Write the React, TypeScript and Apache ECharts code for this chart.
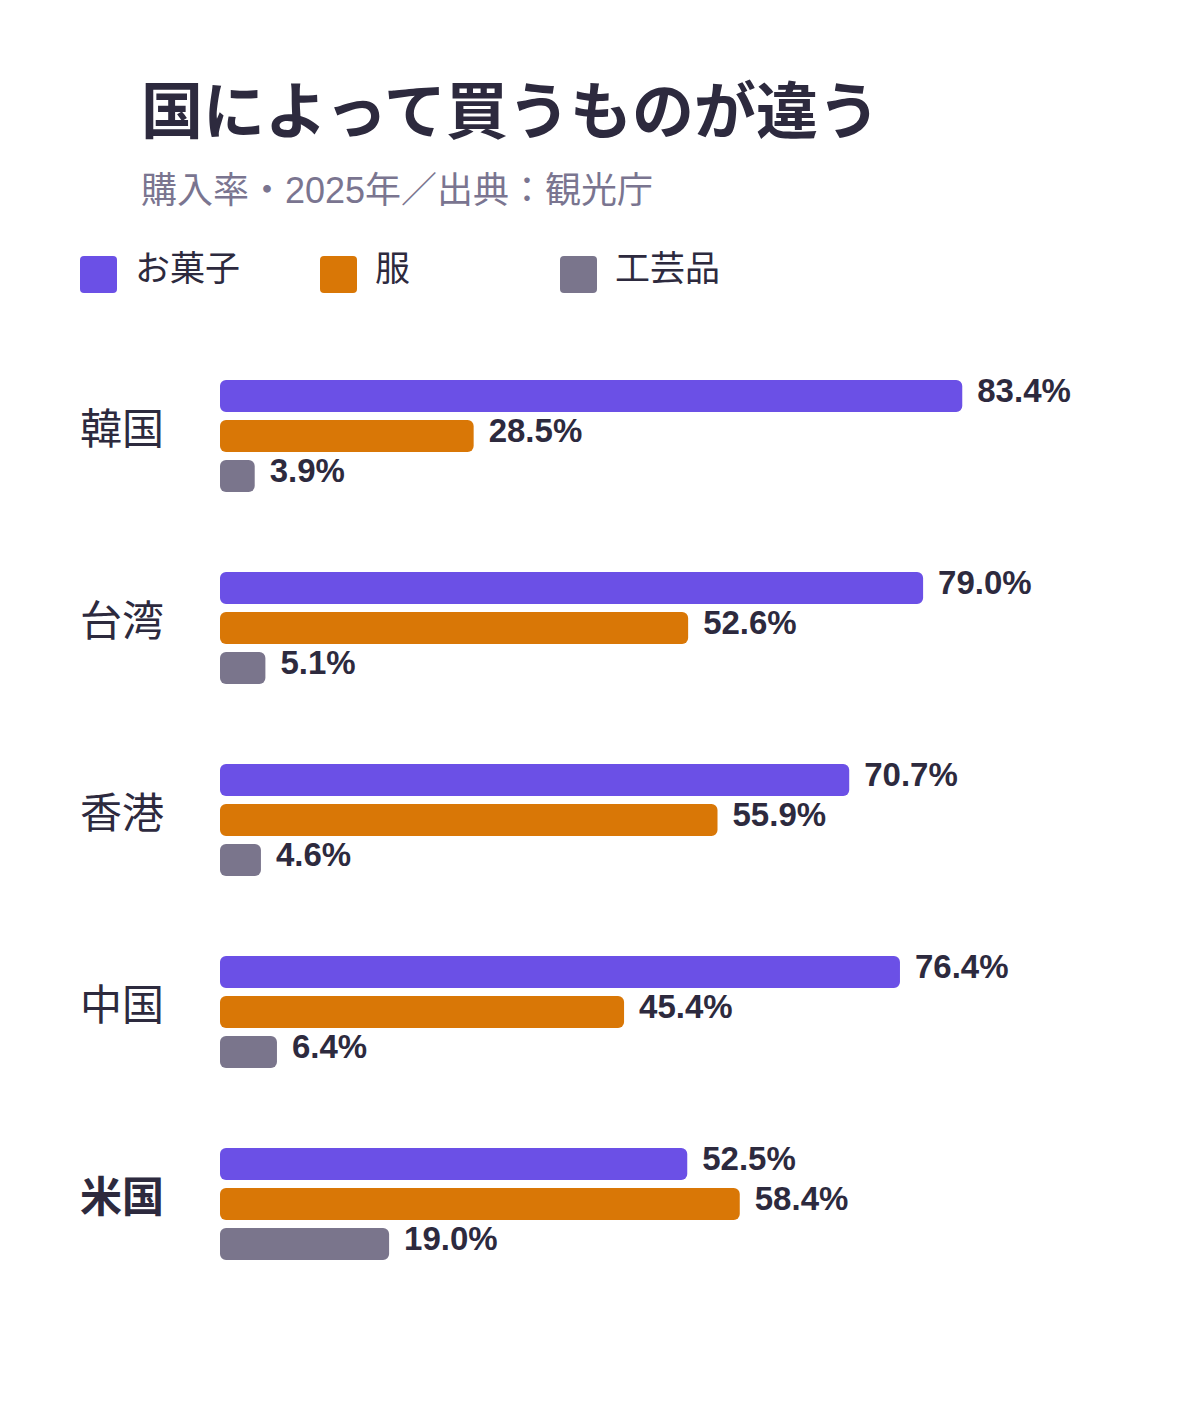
import React, { useEffect, useRef } from "react";
import * as echarts from "echarts";

const countries = ["韓国", "台湾", "香港", "中国", "米国"];
const seriesNames = ["お菓子", "服", "工芸品"];
const sweets = [83.4, 79.0, 70.7, 76.4, 52.5];
const clothes = [28.5, 52.6, 55.9, 45.4, 58.4];
const crafts = [3.9, 5.1, 4.6, 6.4, 19.0];
const colors = ["#6b50e6", "#d97706", "#7a758c"];

const DARK = "#2d2a3e";
const FONT = "'Liberation Sans', 'Noto Sans CJK JP', sans-serif";
const CJK = "'Noto Sans CJK JP', sans-serif";
const ICON = "path://M4,0 H33 Q37,0 37,4 V33 Q37,37 33,37 H4 Q0,37 0,33 V4 Q0,0 4,0 Z";

export default function App() {
  const ref = useRef<HTMLDivElement>(null);

  useEffect(() => {
    document.body.style.margin = "0";
    const chart = echarts.init(ref.current!, null, { renderer: "svg" });
    const values = [sweets, clothes, crafts];

    chart.setOption({
      animation: false,
      backgroundColor: "#ffffff",
      title: {
        text: "国によって買うものが違う",
        subtext: "購入率・2025年／出典：観光庁",
        left: 136,
        top: 71,
        itemGap: 34,
        textStyle: { fontFamily: CJK, fontSize: 62, fontWeight: "bold", color: DARK },
        subtextStyle: { fontFamily: FONT, fontSize: 36, color: "#7a7590" },
      },
      legend: seriesNames.map((name, i) => ({
        data: [name],
        left: 80 + i * 240,
        top: 248,
        icon: ICON,
        itemWidth: 37,
        itemHeight: 37,
        padding: 0,
        formatter: (n: string) => `{t|${n}}`,
        textStyle: {
          fontFamily: CJK,
          fontSize: 35,
          color: DARK,
          rich: {
            t: {
              fontFamily: CJK,
              fontSize: 35,
              color: DARK,
              padding: [0, 0, 18, 13],
            },
          },
        },
        selectedMode: false,
      })),
      grid: { left: 220, top: 340, width: 890, height: 960, containLabel: false },
      xAxis: {
        type: "value",
        min: 0,
        max: 100,
        show: false,
      },
      yAxis: {
        type: "category",
        data: countries,
        inverse: true,
        axisLine: { show: false },
        axisTick: { show: false },
        splitLine: { show: false },
        axisLabel: {
          align: "left",
          margin: 140,
          fontFamily: CJK,
          fontSize: 42,
          color: DARK,
          padding: [0, 0, 22, 0],
          formatter: (v: string) => (v === "米国" ? `{b|${v}}` : v),
          rich: {
            b: { fontFamily: CJK, fontSize: 42, fontWeight: "bold", color: DARK },
          },
        },
      },
      series: seriesNames.map((name, i) => ({
        name,
        type: "bar",
        data: values[i],
        barWidth: 32,
        barGap: "25%",
        itemStyle: { color: colors[i], borderRadius: 6 },
        label: {
          show: true,
          position: "right",
          distance: 15,
          offset: [0, -6],
          fontFamily: FONT,
          fontSize: 33,
          fontWeight: "bold",
          color: DARK,
          formatter: (p: any) => `${Number(p.value).toFixed(1)}%`,
        },
      })),
    });

    return () => chart.dispose();
  }, []);

  return <div ref={ref} style={{ width: 1200, height: 1420 }} />;
}
